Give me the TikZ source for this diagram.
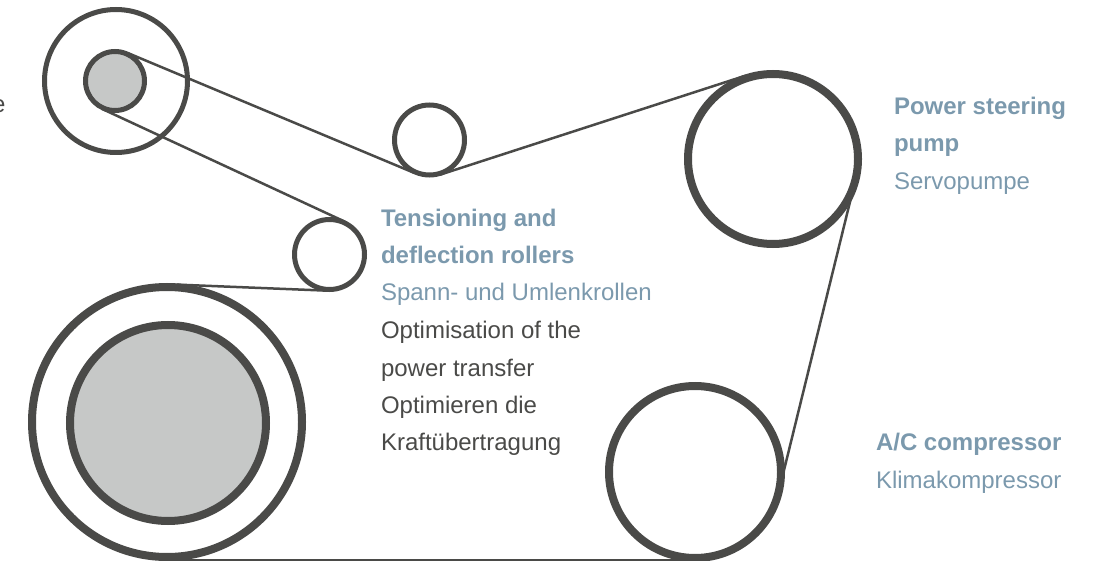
\documentclass[tikz,border=0pt]{standalone}
\usepackage{fontspec}
\setmainfont{Liberation Sans}
\definecolor{ink}{HTML}{4A4A48}
\definecolor{hub}{HTML}{C6C8C7}
\definecolor{label}{HTML}{7B99AD}
\tikzset{
  pulley/.style={circle,draw=ink,fill=white,inner sep=0pt},
  thin pulley/.style={pulley,line width=5pt,outer sep=1.25pt},
  thick pulley/.style={pulley,line width=8pt,outer sep=2.75pt},
  belt/.style={draw=ink,line width=2.5pt},
  txt/.style={anchor=base west,inner sep=0pt,outer sep=0pt,font=\fontsize{24}{24}\selectfont},
  head/.style={txt,text=label,font=\fontsize{24}{24}\selectfont\bfseries},
  sub/.style={txt,text=label},
  body/.style={txt,text=ink}
}
\begin{document}
\begin{tikzpicture}[x=1pt,y=-1pt]
\useasboundingbox (0,0) rectangle (1100,561);
\clip (0,0) rectangle (1100,561);
\node[thin pulley,minimum size=143pt] (alt) at (116,81) {};
\node[thick pulley,minimum size=170pt] (steer) at (773,159) {};
\node[thick pulley,minimum size=172pt] (comp) at (695,472) {};
\node[thick pulley,minimum size=270pt] (crank) at (167,422) {};
\node[thick pulley,minimum size=196pt,fill=hub] (crankhub) at (168,423) {};
\node[thin pulley,minimum size=70pt] (rolla) at (429.5,140) {};
\node[thin pulley,minimum size=70pt] (rollb) at (329.5,254.5) {};
\node[thin pulley,minimum size=59pt,fill=hub] (althub) at (115,81) {};
\draw[belt] (althub.66.9) -- (rolla.246.9);
\draw[belt] (althub.245.6) -- (rollb.65.6);
\draw[belt] (crank.86.8) -- (rollb.266.8);
\draw[belt] (rolla.288.4) -- (steer.108.4);
\draw[belt] ([xshift=-2.67pt,yshift=.67pt]steer.-14) -- ([xshift=-2.67pt,yshift=.67pt]comp.-14);
\draw[belt] ([yshift=-.25pt]crank.south) -- ([yshift=.75pt]comp.south);
\node[body] (cut) at (-8,113) {e};
\node[head] (h1a) at (381,227) {Tensioning and};
\node[head] (h1b) at (381,264) {deflection rollers};
\node[sub] (s1) at (381,301) {Spann- und Umlenkrollen};
\node[body] (b1) at (381,338) {Optimisation of the};
\node[body] (b2) at (381,376) {power transfer};
\node[body] (b3) at (381,413) {Optimieren die};
\node[body] (b4) at (381,450) {Kraftübertragung};
\node[head] (h2a) at (894,115) {Power steering};
\node[head] (h2b) at (894,152) {pump};
\node[sub] (s2) at (894,190) {Servopumpe};
\node[head] (h3) at (876,450) {A/C compressor};
\node[sub] (s3) at (876,488) {Klimakompressor};
\end{tikzpicture}
\end{document}
